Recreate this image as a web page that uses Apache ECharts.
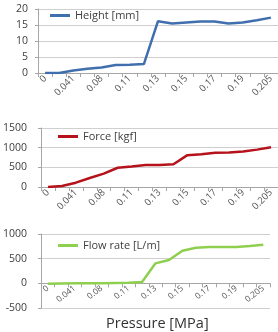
<!DOCTYPE html>
<html>
<head>
<meta charset="utf-8">
<script src="https://cdn.jsdelivr.net/npm/echarts@6/dist/echarts.min.js"></script>
<style>
  html, body { margin: 0; padding: 0; background: #fff; }
  #chart { width: 278px; height: 332px; }
</style>
</head>
<body>
<div id="chart"></div>
<script>
const pressure = ["0", "0.02", "0.041", "0.06", "0.08", "0.095", "0.11", "0.12", "0.13",
  "0.14", "0.15", "0.16", "0.17", "0.18", "0.19", "0.2", "0.205"];
const heightMm = [0, 0, 0.8, 1.3, 1.7, 2.5, 2.6, 2.8, 16.2, 15.5, 15.8, 16.1, 16.1, 15.5, 15.8, 16.5, 17.3];
const forceKgf = [0, 25, 110, 230, 340, 490, 520, 560, 560, 580, 810, 830, 870, 875, 900, 950, 1010];
const flowLm = [-10, -5, 0, 0, 0, 5, 10, 25, 405, 473, 662, 723, 736, 736, 736, 757, 784];

const font = "Open Sans";
const labelColor = "#555";
const gridColor = "#cfcfcf";

const chart = echarts.init(document.getElementById("chart"), null, { renderer: "canvas" });

function xAx(gridIndex, size, rot, offset) {
  return {
    type: "category",
    gridIndex: gridIndex,
    data: pressure,
    boundaryGap: true,
    offset: offset,
    axisLine: { onZero: false, lineStyle: { color: "#a6a6a6", width: 1 } },
    axisTick: { show: true, interval: 0, length: 4, lineStyle: { color: "#a6a6a6" } },
    axisLabel: {
      interval: 1, rotate: rot, fontSize: size, color: labelColor, fontFamily: font, margin: 4
    },
    splitLine: { show: false }
  };
}

function yAx(gridIndex, min, max, step, margin) {
  return {
    type: "value",
    gridIndex: gridIndex,
    min: min, max: max, interval: step,
    axisLine: { show: true, lineStyle: { color: "#a6a6a6" } },
    axisTick: { show: true, length: 3, lineStyle: { color: "#a6a6a6" } },
    axisLabel: {
      fontSize: 10.5, color: "#404040", fontFamily: font, margin: margin,
      formatter: (v) => String(v)
    },
    splitLine: { show: true, lineStyle: { color: gridColor, width: 1 } }
  };
}

function legendAt(name, left, top) {
  return {
    data: [name],
    left: left, top: top,
    itemWidth: 20, itemHeight: 3,
    icon: "rect",
    itemGap: 0,
    textStyle: { fontSize: 11, color: "#404040", fontFamily: font },
    padding: 0
  };
}

function lineSeries(name, idx, data, color) {
  return {
    name: name,
    type: "line",
    xAxisIndex: idx,
    yAxisIndex: idx,
    data: data,
    symbol: "none",
    lineStyle: { color: color, width: 2.5 },
    itemStyle: { color: color }
  };
}

chart.setOption({
  animation: false,
  grid: [
    { left: 38, right: 0, top: 9, height: 64 },
    { left: 39, right: 0, top: 128, height: 59 },
    { left: 39, right: 8, top: 234, height: 74 }
  ],
  legend: [
    legendAt("Height [mm]", 50, 10),
    legendAt("Force [kgf]", 58, 131),
    legendAt("Flow rate [L/m]", 58, 240)
  ],
  // third x axis sits on the zero line (a third of the way up its grid)
  xAxis: [xAx(0, 9.5, 45, 0), xAx(1, 9.5, 45, 0), xAx(2, 8.5, 38, -74 / 3)],
  yAxis: [
    yAx(0, 0, 20, 5, 10),
    yAx(1, 0, 1500, 500, 14),
    yAx(2, -500, 1000, 500, 14)
  ],
  graphic: [{
    type: "text",
    left: 106,
    top: 316,
    style: { text: "Pressure [MPa]", fontSize: 14.5, fill: "#333", fontFamily: font }
  }],
  series: [
    lineSeries("Height [mm]", 0, heightMm, "#3f6fad"),
    lineSeries("Force [kgf]", 1, forceKgf, "#b5121b"),
    lineSeries("Flow rate [L/m]", 2, flowLm, "#8fcf4f")
  ]
});

window.addEventListener("resize", () => chart.resize());
</script>
</body>
</html>
